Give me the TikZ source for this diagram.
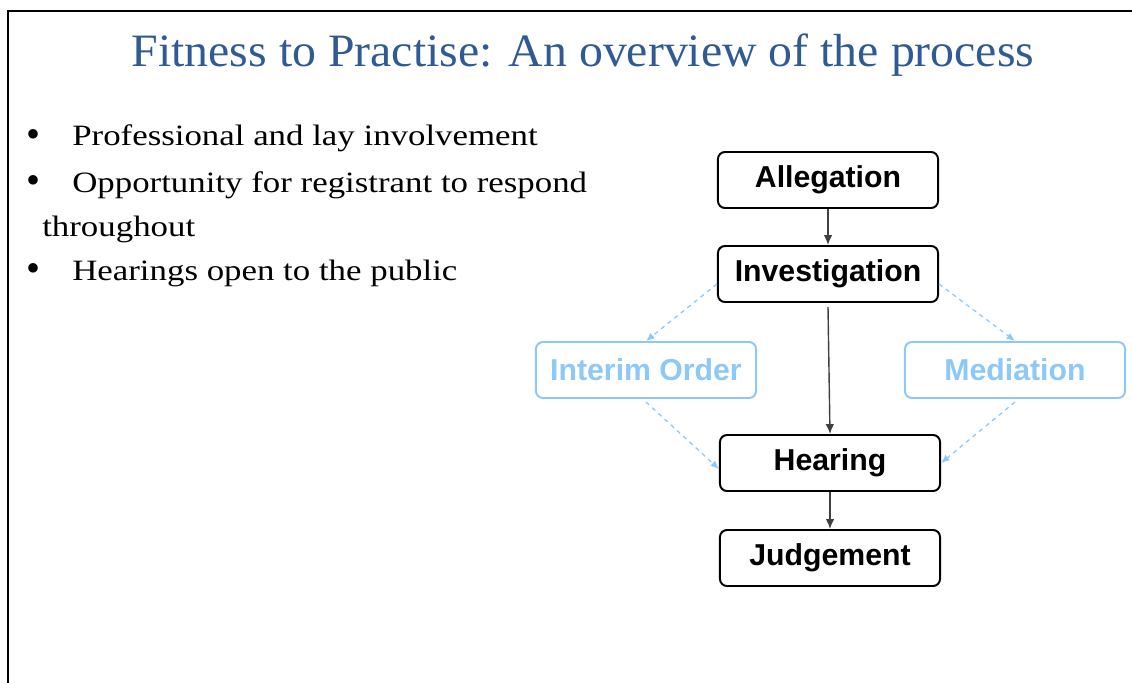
\documentclass[tikz,border=0pt]{standalone}
\usepackage{fontspec}
\setmainfont{Liberation Serif}
\newfontfamily\boxfont{Liberation Sans}
\usetikzlibrary{arrows.meta}
\definecolor{titleblue}{HTML}{2F5A94}
\definecolor{lightblue}{HTML}{8CC8F8}
\newcommand{\stretchtxt}[1]{\scalebox{1.18}[1]{#1}}
\newcommand{\bigdot}{\scalebox{1.35}{\textbullet}}
\tikzset{
  procbox/.style={draw=black, line width=1.4pt, rounded corners=5pt, minimum width=5.5cm, minimum height=1.4cm, font=\boxfont\bfseries\fontsize{21.5}{24}\selectfont, text=black, inner sep=0pt},
  optbox/.style={procbox, draw=lightblue, text=lightblue},
  solidarrow/.style={draw=black!75, line width=1pt, -{Latex[length=7pt,width=6pt]}},
  dasharrow/.style={draw=lightblue, line width=0.9pt, dash pattern=on 3pt off 3pt, -{Latex[length=6pt,width=5pt]}},
  bulletline/.style={anchor=base west, inner sep=0pt, font=\fontsize{21}{24}\selectfont},
}
\begin{document}
\begin{tikzpicture}[x=0.025cm, y=-0.025cm]
\useasboundingbox (0,0) rectangle (1132,683);
\draw[line width=1.6pt] (1140,11) -- (8,11) -- (8,690);
\node[anchor=base, text=titleblue, inner sep=0pt, font=\fontsize{33}{38}\selectfont] (title) at (583,67) {\scalebox{1.03}[1]{Fitness to Practise: An overview of the process}};
\node[bulletline] (b1d) at (26,147) {\bigdot};
\node[bulletline] (b1) at (72,146) {\stretchtxt{Professional and lay involvement}};
\node[bulletline] (b2d) at (26,193) {\bigdot};
\node[bulletline] (b2) at (72,192) {\stretchtxt{Opportunity for registrant to respond}};
\node[bulletline] (b2b) at (42,236) {\stretchtxt{throughout}};
\node[bulletline] (b3d) at (26,281) {\bigdot};
\node[bulletline] (b3) at (72,280) {\stretchtxt{Hearings open to the public}};

\node[procbox] (alleg) at (828,180) {Allegation};
\node[procbox] (inv) at (828,274) {Investigation};
\node[optbox] (interim) at (646,370) {Interim Order};
\node[optbox] (med) at (1015,370) {Mediation};
\node[procbox] (hear) at (830,463) {Hearing};
\node[procbox] (judg) at (830,558) {Judgement};

\draw[solidarrow] (alleg) -- (inv);
\draw[solidarrow] (inv.south) ++(0,4) coordinate (invs) (invs) -- (hear.north);
\draw[solidarrow] (hear) -- (judg);
\draw[dasharrow] (inv.west) ++(0,10) coordinate (invw) (invw) -- (interim.north);
\draw[dasharrow] (inv.east) ++(0,10) coordinate (inve) (inve) -- (med.north);
\draw[dasharrow] (interim.south) ++(0,3) coordinate (ints) (ints) -- ([yshift=-0.15cm]hear.west);
\draw[dasharrow] (med.south) ++(0,3) coordinate (meds) (meds) -- (hear.east);
\end{tikzpicture}
\end{document}
